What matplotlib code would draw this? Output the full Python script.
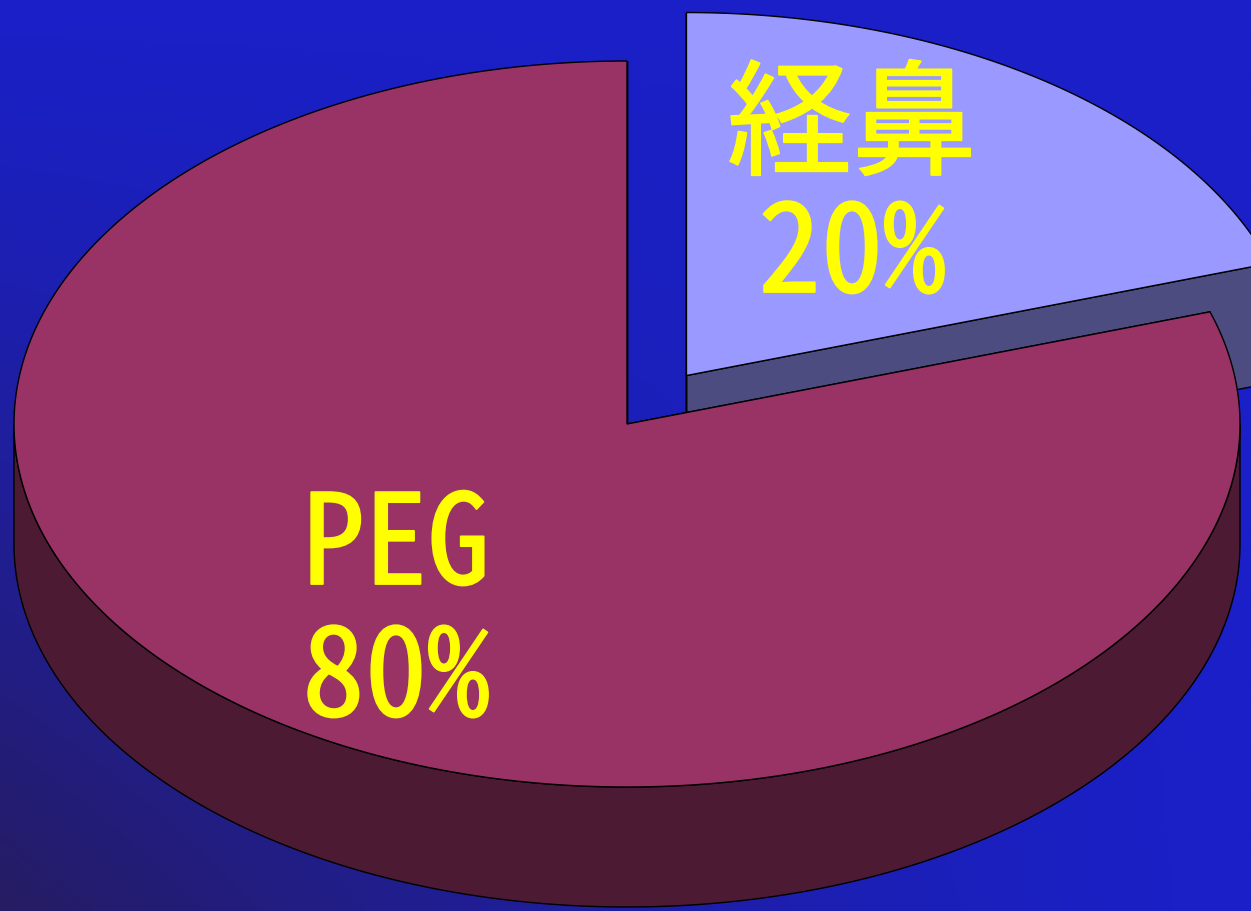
import numpy as np
import matplotlib
matplotlib.use('Agg')
from matplotlib import pyplot as plt
from matplotlib.patches import Polygon
from matplotlib import patheffects

plt.rcParams['font.family'] = ['Noto Sans Mono CJK JP', 'Noto Sans CJK JP', 'DejaVu Sans']

# chart data
labels = ['PEG', '経鼻']
values = [80, 20]
pct_labels = ['80%', '20%']
explode = [0.0, 0.165]
top_colors = ['#993366', '#9999ff']
side_colors = ['#4d1a33', '#4c4c80']

W, H = 1251, 912
cx, cy = 627, 425        # pie centre (pixels)
rx, ry = 613, 363        # ellipse radii
depth = 120              # thickness of the pie

fig = plt.figure(figsize=(W / 100, H / 100), dpi=100)
ax = fig.add_axes([0, 0, 1, 1])
ax.set_xlim(0, W)
ax.set_ylim(H, 0)
ax.axis('off')

# background gradient: bright blue, darker toward bottom-left
xx, yy = np.meshgrid(np.linspace(0, 1, 200), np.linspace(0, 1, 150))
t = np.clip((yy ** 1.2) * (1 - xx) ** 1.4, 0, 1)
bright = np.array([26, 32, 200]) / 255
dark = np.array([38, 28, 98]) / 255
bg = bright[None, None, :] * (1 - t[..., None]) + dark[None, None, :] * t[..., None]
ax.imshow(bg, extent=[0, W, H, 0], aspect='auto', zorder=0, interpolation='bilinear')


def rim(theta, dx, dy, dz=0):
    th = np.radians(theta)
    return np.column_stack([cx + dx + rx * np.cos(th), cy + dy - ry * np.sin(th) + dz])


# slice angles: start at top, go counter-clockwise
fracs = np.array(values) / sum(values)
starts = 90 + 360 * np.concatenate([[0], np.cumsum(fracs)[:-1]])
ends = starts + 360 * fracs

# draw exploded (back) slice first, then the large one
order = np.argsort(explode)[::-1]
z = 1
for i in order:
    a0, a1 = starts[i], ends[i]
    mid = np.radians((a0 + a1) / 2)
    dx = explode[i] * rx * np.cos(mid)
    dy = -explode[i] * ry * np.sin(mid)
    apex = np.array([cx + dx, cy + dy])

    # radial cut faces
    for a in (a0, a1):
        p = rim(a, dx, dy)[0]
        face = np.array([apex, p, p + [0, depth], apex + [0, depth]])
        ax.add_patch(Polygon(face, closed=True, fc=side_colors[i], ec='black', lw=1, zorder=z))
    z += 1

    # outer wall: only the front half (180..360 deg) is visible
    for base in (0, 360):
        s0, s1 = max(a0, 180 + base), min(a1, 360 + base)
        if s1 > s0:
            th = np.linspace(s0, s1, 200)
            top = rim(th, dx, dy)
            bot = rim(th[::-1], dx, dy, depth)
            ax.add_patch(Polygon(np.vstack([top, bot]), closed=True, fc=side_colors[i],
                                 ec='black', lw=1, zorder=z))
    z += 1

    # top face
    th = np.linspace(a0, a1, 400)
    pts = np.vstack([apex[None, :], rim(th, dx, dy)])
    ax.add_patch(Polygon(pts, closed=True, fc=top_colors[i], ec='black', lw=1, zorder=z))
    z += 1

# labels
thick = [patheffects.withStroke(linewidth=1.3, foreground='#ffff00')]
lab_pos = {0: (396, 585, 717), 1: (852, 166, 293)}
for i in range(len(values)):
    x, y1, y2 = lab_pos[i]
    ax.text(x, y1, labels[i], color='#ffff00', fontsize=90, path_effects=thick,
            ha='center', va='baseline', zorder=20)
    ax.text(x, y2, pct_labels[i], color='#ffff00', fontsize=90, path_effects=thick,
            ha='center', va='baseline', zorder=20)

fig.savefig('out.png', dpi=100)
